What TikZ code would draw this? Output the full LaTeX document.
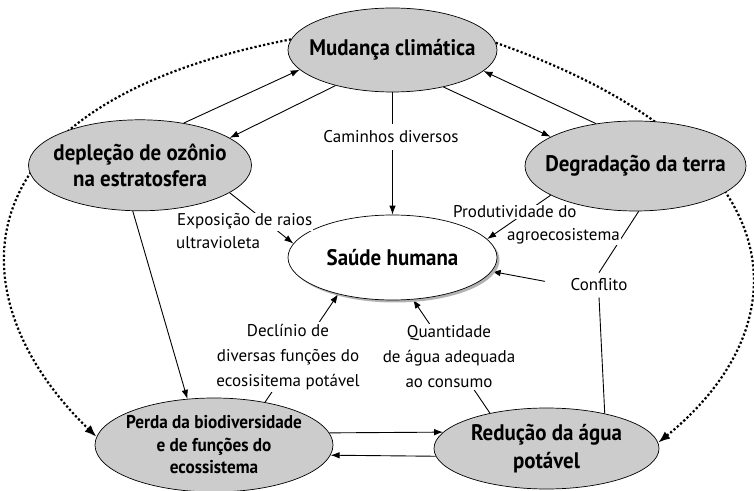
\documentclass[tikz,border=0pt]{standalone}
\usepackage{fontspec}
\setmainfont{PT Sans}
\newfontfamily\blobfont{PT Sans}[FakeStretch=0.93]
\usepackage{tikz}
\usetikzlibrary{
  shapes.geometric,%
  arrows.meta,%
  shadows,%
  backgrounds,%
  positioning
}
\tikzset{>={Latex[length=9pt,width=6.5pt]}}
\tikzset{
  blob/.style={ellipse, draw, line width=0.7pt, fill=gray!40,
    inner xsep=-50pt, inner ysep=-30pt, align=center,
    font=\blobfont\bfseries\fontsize{22.5}{26}\selectfont},
  lbl/.style={fill=white, inner sep=2pt, align=center,
    font=\fontsize{17}{25}\selectfont},
  lblp/.style={inner sep=0pt, align=left,
    font=\fontsize{17}{23}\selectfont},
  arr/.style={->, line width=0.9pt},
  link/.style={line width=0.9pt},
  dotarr/.style={-{Latex[length=12pt,width=9pt]}, line width=2.2pt,
    dash pattern=on 2.2pt off 2.2pt}
}
\newcommand{\wbox}[1]{{\setlength{\fboxsep}{1pt}\colorbox{white}{#1}}}

\begin{document}
\begin{tikzpicture}[x=1pt,y=1pt]
  \useasboundingbox (0,0) rectangle (754,490);

  % the six ellipses
  \node[blob, minimum width=209pt, minimum height=84pt] (mud) at (392.5,440) {Mudança climática};
  \node[blob, minimum width=223pt, minimum height=91pt] (dep) at (140,324.7) {depleção de ozônio\\na estratosfera};
  \node[blob, minimum width=221pt, minimum height=90pt] (deg) at (635.5,324) {Degradação da terra};
  \node[blob, fill=white, minimum width=209pt, minimum height=85pt,
    drop shadow={shadow xshift=2.5pt, shadow yshift=-2.5pt, fill=gray!60, opacity=1}] (sau) at (392.5,232.5) {Saúde humana};
  \node[blob, minimum width=238pt, minimum height=94pt,
    font=\blobfont\bfseries\fontsize{18.5}{22.5}\selectfont] (per) at (214,45) {Perda da biodiversidade\\e de funções do\\ecossistema};
  \node[blob, minimum width=225pt, minimum height=81pt,
    font=\blobfont\bfseries\fontsize{22.5}{28}\selectfont] (red) at (546.5,41.5) {Redução da água\\potável};
  \node[inner sep=6pt, font=\fontsize{17}{25}\selectfont] (conf) at (599,205) {Conflito};

  \begin{scope}[on background layer]
    % outer cycle
    \draw[dotarr] (mud.174) .. controls (-50,385) and (-45,190) .. (per.176);
    \draw[dotarr] (mud.4) .. controls (806,338) and (801,163) .. (red.3);
    % pairs
    \draw[arr] (dep.44) -- (mud.192);
    \draw[arr] (mud.212) -- (dep.17);
    \draw[arr] (mud.324) -- (deg.161);
    \draw[arr] (deg.133) -- (mud.347);
    \draw[arr] (per.6) -- (red.171);
    \draw[arr] (red.184) -- (per.355);
    % into the centre
    \draw[arr] (mud.south) -- (sau.north);
    \draw[arr] (dep.343) -- (sau.172);
    \draw[arr] (deg.199) -- (sau.11);
    \draw[arr] (per.40) -- (sau.214);
    \draw[arr] (red.148) -- (sau.296);
    \draw[arr] (dep.261) -- (per.120);
    % conflict
    \draw[link] (deg.274) -- (conf.north);
    \draw[link] (red.31) -- (conf.south);
    \draw[arr, shorten <=20pt] (conf.west) -- (sau.352);
  \end{scope}

  % labels on the arrows
  \node[lbl, inner ysep=7pt] (cam) at (391,353) {Caminhos diversos};
  \node[lblp, anchor=west] (expo) at (176,259) {\wbox{Exposição de raios}\\ultravioleta};
  \node[lblp, anchor=west] (prod) at (452,265) {\wbox{Produtividade do}\\\hspace*{54pt}\wbox{agroecosistema}};
  \node[lbl] (decl) at (288,133) {Declínio de\\diversas funções do\\ecosisitema potável};
  \node[lbl] (quant) at (449,133) {Quantidade\\de água adequada\\ao consumo};
\end{tikzpicture}
\end{document}
